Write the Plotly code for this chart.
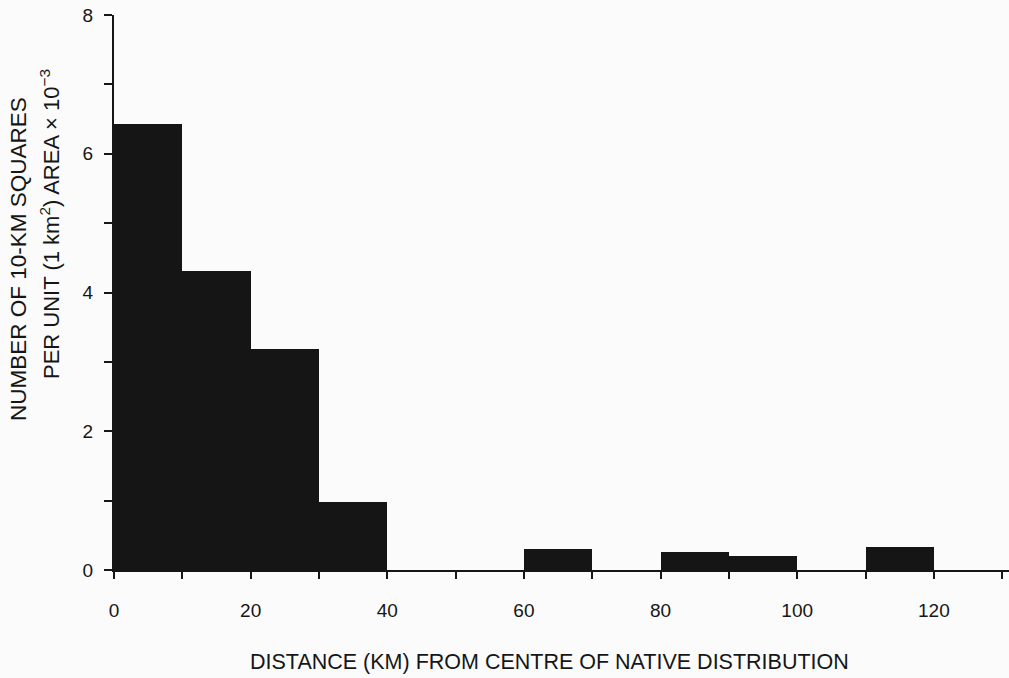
import plotly.graph_objects as go

# Data
bin_start = [0, 10, 20, 30, 60, 80, 90, 110]
bin_width = 10
values = [6.43, 4.31, 3.18, 0.98, 0.30, 0.26, 0.20, 0.33]

x_major_ticks = [0, 20, 40, 60, 80, 100, 120]
x_minor_ticks = [10, 30, 50, 70, 90, 110, 130]
y_major_ticks = [0, 2, 4, 6, 8]
y_minor_ticks = [1, 3, 5, 7]

centers = [s + bin_width / 2 for s in bin_start]

font_family = "Liberation Sans, Arial, Helvetica, sans-serif"
ink = "#161616"

L, T, W, H = 114, 15, 895, 555  # plot area in pixels

def px(xp):
    return (xp - L) / W

def py(yp):
    return (T + H - yp) / H

fig = go.Figure()
fig.add_trace(go.Bar(
    x=centers, y=values, width=[bin_width] * len(values),
    marker=dict(color="#151515", line=dict(width=0)),
    hoverinfo="x+y",
))

fig.update_layout(
    width=1009, height=678,
    margin=dict(l=L, r=1009 - L - W, t=T, b=678 - T - H, autoexpand=False),
    paper_bgcolor="#fbfbfb", plot_bgcolor="#fbfbfb",
    showlegend=False,
    bargap=0,
    font=dict(family=font_family, size=19, color=ink),
    xaxis=dict(
        range=[0, 131], showgrid=False, zeroline=False, automargin=False,
        showline=True, linecolor=ink, linewidth=2,
        ticks="outside", ticklen=7, tickwidth=2, tickcolor=ink,
        tickvals=x_major_ticks,
        ticktext=[str(v) for v in x_major_ticks],
        minor=dict(tickvals=x_minor_ticks, ticks="outside", ticklen=7,
                   tickwidth=2, tickcolor=ink, showgrid=False),
        ticklabelstandoff=15,
        tickfont=dict(size=19, color=ink),
    ),
    yaxis=dict(
        range=[0, 8], showgrid=False, zeroline=False, automargin=False,
        showline=True, linecolor=ink, linewidth=2,
        ticks="outside", ticklen=8, tickwidth=2, tickcolor=ink,
        tickvals=y_major_ticks,
        ticktext=[str(v) for v in y_major_ticks],
        minor=dict(tickvals=y_minor_ticks, ticks="outside", ticklen=8,
                   tickwidth=2, tickcolor=ink, showgrid=False),
        ticklabelstandoff=7,
        tickfont=dict(size=19, color=ink),
    ),
    annotations=[
        dict(text="DISTANCE (KM) FROM CENTRE OF NATIVE DISTRIBUTION",
             xref="paper", yref="paper", x=px(549.5), y=py(662),
             xanchor="center", yanchor="middle", showarrow=False,
             font=dict(size=21.5, color=ink)),
        dict(text="NUMBER OF 10-KM SQUARES",
             xref="paper", yref="paper", x=px(18), y=py(259),
             xanchor="center", yanchor="middle", showarrow=False, textangle=-90,
             font=dict(size=22.5, color=ink)),
        dict(text="PER UNIT (1 km<sup>2</sup>) AREA × 10<sup>−3</sup>",
             xref="paper", yref="paper", x=px(50), y=py(224),
             xanchor="center", yanchor="middle", showarrow=False, textangle=-90,
             font=dict(size=22, color=ink)),
    ],
)

fig.write_html(
    "out.html",
    config={"displayModeBar": False},
    post_script="document.body.style.margin='0';document.body.style.overflow='hidden';",
)
